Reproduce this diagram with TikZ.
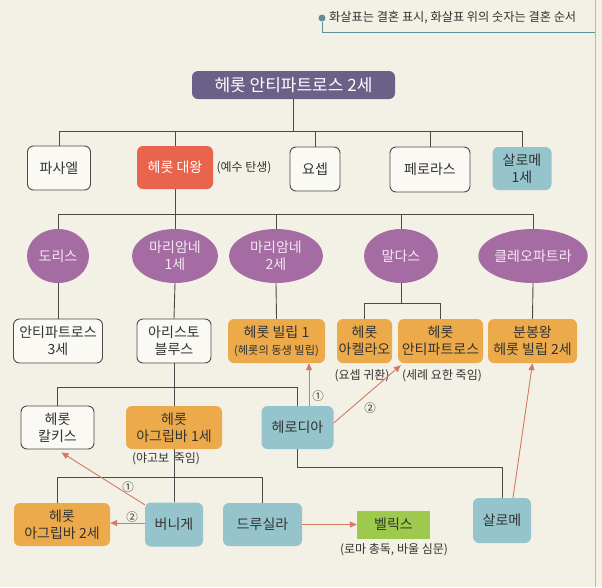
\documentclass[tikz,border=0pt]{standalone}
\usepackage{fontspec}
\setmainfont{Noto Sans CJK KR}
\usetikzlibrary{arrows.meta,shapes.geometric}
\definecolor{bgc}{HTML}{F3F0E6}
\definecolor{linec}{HTML}{4A4A4A}
\definecolor{topc}{HTML}{6A6088}
\definecolor{redc}{HTML}{E8644C}
\definecolor{tealc}{HTML}{95C4CC}
\definecolor{purc}{HTML}{A56CA3}
\definecolor{orc}{HTML}{ECAA4B}
\definecolor{grc}{HTML}{9DC94C}
\definecolor{arrc}{HTML}{D27A62}
\definecolor{legc}{HTML}{5F9099}
\definecolor{txtc}{HTML}{333333}
\definecolor{wboxc}{HTML}{FAF9F4}
\definecolor{elltxt}{HTML}{F6E8F3}
\newcommand{\bxfont}{\fontsize{14}{17}\selectfont}
\newcommand{\topfont}{\fontsize{17}{20}\selectfont}
\newcommand{\notefont}{\fontsize{12}{14}\selectfont}
\newcommand{\legfont}{\fontsize{12.2}{14}\selectfont}
\newcommand{\smfont}{\fontsize{11.2}{13}\selectfont}
\newcommand{\numfont}{\fontsize{11.5}{13}\selectfont}
\begin{document}
\begin{tikzpicture}[x=1pt,y=-1pt,
  base/.style={rounded corners=6pt, align=center, inner sep=0pt, font=\bxfont, text=txtc},
  wbox/.style={base, draw=linec, line width=0.9pt, fill=wboxc},
  tbox/.style={base, fill=tealc},
  obox/.style={base, fill=orc},
  pell/.style={ellipse, fill=purc, inner sep=0pt, align=center, font=\bxfont, text=elltxt, minimum height=54pt},
  conn/.style={draw=linec, line width=0.9pt},
  marr/.style={draw=arrc, line width=0.9pt, -{Triangle[length=7pt,width=6pt]}},
  note/.style={font=\notefont, text=txtc, inner sep=0pt},
  num/.style={font=\numfont, text=txtc, inner sep=0pt}]
\fill[bgc] (0,0) rectangle (602,587);
\useasboundingbox (0,0) rectangle (602,587);
\draw[gray!55, line width=0.6pt] (595,0) -- (595,587);
% legend
\node[circle, fill=legc, inner sep=0pt, minimum size=7pt] (lb) at (322,18) {};
\coordinate (lbend) at (595,32);
\draw[legc, line width=0.8pt] (lb) -- (lb |- lbend) -- (lbend);
\node[note, font=\legfont, anchor=west] (leg) at (329,18) {화살표는 결혼 표시, 화살표 위의 숫자는 결혼 순서};
% bus coordinates
\coordinate (b1) at (0,131);
\coordinate (b2) at (0,214);
\coordinate (b3) at (0,303);
\coordinate (b4) at (0,387);
\coordinate (b5) at (0,477);
\coordinate (b6) at (0,467);
% top
\node[base, fill=topc, text=white, font=\topfont, minimum width=203pt, minimum height=28pt] (top) at (293.5,85) {헤롯 안티파트로스 2세};
% row 1
\node[wbox, minimum width=63pt, minimum height=44pt] (psl) at (59,168) {파사엘};
\node[base, fill=redc, text=white, minimum width=76pt, minimum height=43pt] (hd) at (175,167.5) {헤롯 대왕};
\node[note] (hdn) at (244,168) {(예수 탄생)};
\node[wbox, minimum width=50pt, minimum height=44pt] (ys) at (315,169) {요셉};
\node[wbox, minimum width=80pt, minimum height=45pt] (prs) at (430,169.5) {페로라스};
\node[tbox, minimum width=59pt, minimum height=43pt] (sl1) at (522,168.5) {살로메\\1세};
% row 2
\node[pell, minimum width=62pt] (dor) at (58,256) {도리스};
\node[pell, minimum width=86pt] (mr1) at (175,256) {마리암네\\1세};
\node[pell, minimum width=94pt] (mr2) at (276,256) {마리암네\\2세};
\node[pell, minimum width=74pt] (mal) at (401,256) {말다스};
\node[pell, minimum width=98pt] (cle) at (533,256) {클레오파트라};
% row 3
\node[wbox, minimum width=89pt, minimum height=44pt] (an3) at (58,341) {안티파트로스\\3세};
\node[wbox, minimum width=74pt, minimum height=44pt] (ar) at (174,341) {아리스토\\블루스};
\node[obox, minimum width=97pt, minimum height=44pt] (hp1) at (276.5,341) {헤롯 빌립 1\\{\smfont (헤롯의 동생 빌립)}};
\node[obox, minimum width=55pt, minimum height=44pt] (akl) at (364.5,341) {헤롯\\아켈라오};
\node[obox, minimum width=85pt, minimum height=44pt] (han) at (440.5,341) {헤롯\\안티파트로스};
\node[obox, minimum width=89pt, minimum height=44pt] (bb) at (532.5,341) {분봉왕\\헤롯 빌립 2세};
\node[note] (aklN) at (362,376) {(요셉 귀환)};
\node[note] (hanN) at (442,376) {(세례 요한 죽임)};
% row 4
\node[wbox, minimum width=73pt, minimum height=43pt] (kk) at (57.5,427.5) {헤롯\\칼키스};
\node[obox, minimum width=96pt, minimum height=43pt] (ag1) at (174,427.5) {헤롯\\아그립바 1세};
\node[note] (ag1N) at (166,459) {(야고보 \hspace{2pt}죽임)};
\node[tbox, minimum width=72pt, minimum height=43pt] (hrd) at (297.5,427.5) {헤로디아};
% row 5
\node[obox, minimum width=96pt, minimum height=43pt] (ag2) at (62,524.5) {헤롯\\아그립바 2세};
\node[tbox, minimum width=58pt, minimum height=44pt] (bn) at (174,524.5) {버니게};
\node[tbox, minimum width=79pt, minimum height=43pt] (dr) at (262.5,524.5) {드루실라};
\node[base, rounded corners=0pt, fill=grc, minimum width=73pt, minimum height=28pt] (fx) at (393.5,524.5) {벨릭스};
\node[note] (fxN) at (394,550) {(로마 총독, 바울 심문)};
\node[tbox, minimum width=58pt, minimum height=45pt] (sal) at (502,520.5) {살로메};
% connectors: level 1
\draw[conn] (top.south) -- (top.south |- b1);
\draw[conn] (psl.north) -- (psl.north |- b1) -- (sl1.north |- b1) -- (sl1.north);
\foreach \n in {hd, ys, prs} \draw[conn] (\n.north) -- (\n.north |- b1);
% level 2
\draw[conn] (hd.south) -- (hd.south |- b2);
\draw[conn] (dor.north) -- (dor.north |- b2) -- (cle.north |- b2) -- (cle.north);
\foreach \n in {mr1, mr2, mal} \draw[conn] (\n.north) -- (\n.north |- b2);
% level 3
\draw[conn] (dor.south) -- (an3.north);
\draw[conn] (mr1.south) -- (ar.north);
\draw[conn] (mr2.south) -- (hp1.north);
\draw[conn] (cle.south) -- (bb.north);
\draw[conn] (mal.south) -- (mal.south |- b3);
\draw[conn] (akl.north) -- (akl.north |- b3) -- (han.north |- b3) -- (han.north);
% level 4
\draw[conn] (ar.south) -- (ag1.north);
\draw[conn] (ag1.south) -- (bn.north);
\draw[conn] (kk.north) -- (kk.north |- b4) -- (hrd.north |- b4) -- (hrd.north);
\coordinate (ag2top) at ([xshift=-5pt]ag2.north);
\draw[conn] (ag2top) -- (ag2top |- b5) -- (dr.north |- b5) -- (dr.north);
\draw[conn] (hrd.south) -- (hrd.south |- b6) -- (sal.north |- b6) -- (sal.north);
% marriage arrows
\draw[marr] ([xshift=11.5pt]hrd.north) -- ([xshift=32.5pt]hp1.south);
\draw[marr] ([yshift=4.5pt]hrd.east) -- ([xshift=3pt,yshift=-2pt]han.south west);
\draw[marr] ([yshift=-2.5pt]bn.north west) -- ([xshift=4pt,yshift=-3pt]kk.south);
\draw[marr] ([yshift=1.5pt]bn.west) -- ([yshift=1.5pt]ag2.east);
\draw[marr] (dr.east) -- (fx.west);
\draw[marr] ([xshift=11pt]sal.north) -- (bb.south);
\node[num] (n1a) at (318,396) {①};
\node[num] (n2a) at (370,408) {②};
\node[num] (n1b) at (128,487) {①};
\node[num] (n2b) at (132,517) {②};
\end{tikzpicture}
\end{document}
